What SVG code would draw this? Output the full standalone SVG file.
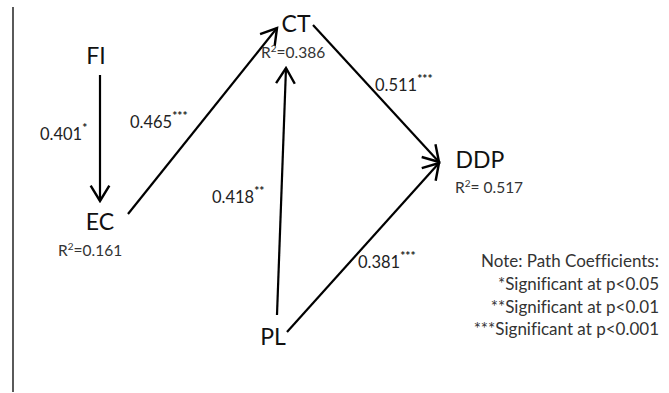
<svg xmlns="http://www.w3.org/2000/svg" width="669" height="393" viewBox="0 0 669 393">
  <style>
    text { font-variant-ligatures: none; }
    .node { font-family: Lato, "Open Sans", "Liberation Sans", sans-serif; font-size: 23px; fill: #111; text-anchor: middle; }
    .r2 { font-family: Lato, "Open Sans", "Liberation Sans", sans-serif; font-size: 15.5px; fill: #333; }
    .coef { font-family: Lato, "Open Sans", "Liberation Sans", sans-serif; font-size: 16.5px; fill: #222; }
    .sup { font-size: 12px; font-weight: bold; }
    .note { font-family: Lato, "Open Sans", "Liberation Sans", sans-serif; font-size: 17px; fill: #333; text-anchor: end; }
    .edge { stroke: #000; stroke-width: 2.2; fill: none; marker-end: url(#arrow); }
  </style>
  <defs>
    <marker id="arrow" markerUnits="userSpaceOnUse" markerWidth="20" markerHeight="22" viewBox="-16 -10 18 20" refX="0" refY="0" orient="auto">
      <path d="M-14,-8.5 L0,0 L-14,8.5" fill="none" stroke="#000" stroke-width="2.2" stroke-linejoin="miter"/>
    </marker>
  </defs>

  <rect width="669" height="393" fill="#fff"/>
  <!-- left frame rule -->
  <line x1="13" y1="7" x2="13" y2="392" stroke="#000" stroke-width="1.3"/>

  <g id="connectors">
    <line class="edge" x1="100" y1="75" x2="100" y2="201"/>
    <line class="edge" x1="128" y1="214" x2="277" y2="28"/>
    <line class="edge" x1="277" y1="315" x2="286" y2="68"/>
    <line class="edge" x1="313" y1="25" x2="439" y2="162"/>
    <line class="edge" x1="287" y1="332" x2="439" y2="163"/>
  </g>

  <g id="labels">
    <text class="coef" x="40" y="140">0.401<tspan class="sup" dy="-8">*</tspan></text>
    <text class="coef" x="130" y="128">0.465<tspan class="sup" dy="-8">***</tspan></text>
    <text class="coef" x="212" y="203">0.418<tspan class="sup" dy="-8">**</tspan></text>
    <text class="coef" x="375" y="91">0.511<tspan class="sup" dy="-8">***</tspan></text>
    <text class="coef" x="358" y="268">0.381<tspan class="sup" dy="-8">***</tspan></text>
  </g>

  <g id="FI">
    <text class="node" x="96" y="64">FI</text>
  </g>
  <g id="EC">
    <text class="node" x="100" y="230">EC</text>
    <text class="r2" x="58" y="256">R<tspan font-size="10" dy="-6">2</tspan><tspan dy="6">=0.161</tspan></text>
  </g>
  <g id="CT">
    <text class="node" x="296" y="32">CT</text>
    <text class="r2" x="261" y="58">R<tspan font-size="10" dy="-6">2</tspan><tspan dy="6">=0.386</tspan></text>
  </g>
  <g id="PL">
    <text class="node" x="273" y="345">PL</text>
  </g>
  <g id="DDP">
    <text class="node" x="480" y="168">DDP</text>
    <text class="r2" x="455" y="193">R<tspan font-size="10" dy="-6">2</tspan><tspan dy="6">= 0.517</tspan></text>
  </g>

  <g id="note">
    <text class="note" x="659" y="267">Note: Path Coefficients:</text>
    <text class="note" x="659" y="290">*Significant at p&lt;0.05</text>
    <text class="note" x="659" y="313">**Significant at p&lt;0.01</text>
    <text class="note" x="659" y="335">***Significant at p&lt;0.001</text>
  </g>
</svg>
